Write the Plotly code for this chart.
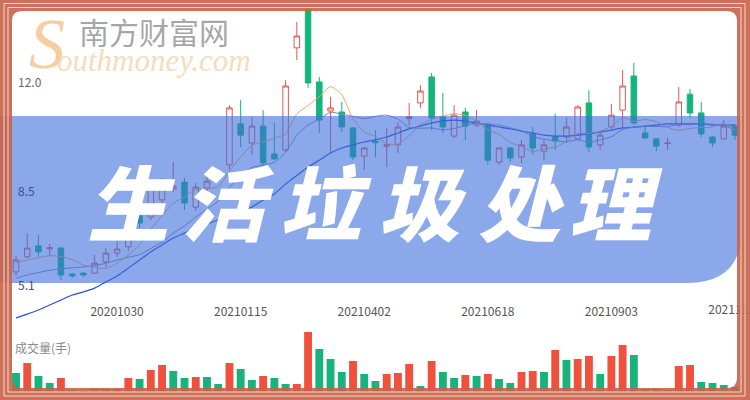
import plotly.graph_objects as go
import pandas as pd

# ---------------- data (weekly K-line) ----------------
dates = pd.date_range("2020-08-28", periods=65, freq="7D").strftime("%Y%m%d").tolist()

open_ = [5.90, 6.38, 6.73, 6.64, 6.66, 5.83, 5.86, 5.86, 6.22, 6.50,
         6.70, 7.69, 7.65, 8.20, 8.55, 8.77, 7.97, 8.58, 9.02, 9.32,
         10.63, 10.02, 10.56, 9.67, 9.80, 13.06, 14.27, 11.97, 11.04, 11.01,
         10.50, 9.60, 10.07, 9.92, 9.96, 10.80, 11.30, 12.13, 10.85, 10.24,
         11.01, 10.59, 10.63, 9.41, 9.86, 9.57, 10.31, 9.76, 10.21, 10.21,
         10.15, 11.30, 9.96, 10.53, 11.07, 12.16, 10.34, 10.15, 10.00, 10.59,
         11.58, 10.98, 10.21, 10.15, 10.56]
high = [6.41, 7.14, 7.08, 6.79, 6.70, 5.86, 5.90, 6.44, 6.66, 6.89,
        7.34, 7.80, 8.84, 8.90, 9.41, 8.90, 8.75, 9.00, 9.16, 11.23,
        11.39, 10.85, 11.07, 10.66, 12.03, 13.89, 14.40, 12.13, 11.49, 11.33,
        10.53, 9.89, 10.43, 10.50, 10.69, 11.30, 11.87, 12.26, 11.62, 11.23,
        11.14, 11.07, 10.65, 9.88, 9.89, 10.12, 10.53, 10.12, 10.95, 10.82,
        11.23, 11.71, 10.43, 11.27, 12.35, 12.58, 10.59, 10.18, 10.18, 11.81,
        11.75, 11.33, 10.23, 10.75, 10.63]
low = [5.77, 6.35, 6.38, 6.38, 5.64, 5.70, 5.74, 5.83, 6.06, 6.38,
       6.57, 7.30, 7.55, 8.00, 8.45, 7.88, 7.85, 8.40, 8.85, 9.16,
       9.89, 9.64, 9.25, 9.47, 9.73, 12.67, 11.78, 10.34, 9.70, 10.37,
       9.47, 9.16, 9.57, 9.25, 9.70, 10.59, 11.14, 10.43, 10.34, 10.18,
       10.12, 10.53, 9.32, 9.32, 9.41, 9.38, 9.64, 9.47, 9.80, 10.02,
       10.12, 9.73, 9.80, 10.43, 10.50, 10.59, 10.15, 9.76, 9.80, 10.53,
       10.82, 10.21, 9.89, 10.12, 10.12]
close = [6.28, 6.66, 6.54, 6.67, 5.80, 5.77, 5.80, 6.18, 6.50, 6.63,
         7.08, 7.46, 8.64, 8.64, 8.64, 8.10, 8.61, 8.80, 8.97, 11.14,
         10.27, 10.56, 9.38, 9.51, 11.84, 13.44, 11.94, 10.75, 11.14, 10.53,
         9.57, 9.86, 10.03, 9.96, 10.53, 10.86, 11.68, 10.82, 10.53, 10.91,
         10.56, 10.72, 9.47, 9.86, 9.54, 9.96, 9.86, 9.96, 10.08, 10.53,
         11.17, 9.89, 10.27, 10.91, 11.84, 10.66, 10.18, 9.92, 10.02, 11.33,
         10.98, 10.31, 10.02, 10.56, 10.27]

ma5 = [6.20, 6.28, 6.35, 6.42, 6.39, 6.29, 6.12, 6.04, 6.01, 6.18,
       6.44, 6.77, 7.26, 7.69, 8.09, 8.30, 8.53, 8.56, 8.62, 9.12,
       9.56, 9.95, 10.06, 10.17, 10.31, 10.95, 11.22, 11.50, 11.82, 11.56,
       10.79, 10.37, 10.23, 9.99, 9.99, 10.25, 10.61, 10.77, 10.88, 10.96,
       10.90, 10.71, 10.44, 10.30, 10.03, 9.91, 9.74, 9.84, 9.88, 10.08,
       10.32, 10.33, 10.39, 10.55, 10.82, 10.71, 10.77, 10.70, 10.52, 10.42,
       10.49, 10.51, 10.53, 10.64, 10.43]
ma10 = [5.70, 5.80, 5.88, 5.95, 6.00, 6.03, 6.06, 6.10, 6.18, 6.28,
        6.37, 6.45, 6.65, 6.85, 7.14, 7.37, 7.65, 7.91, 8.16, 8.61,
        8.93, 9.24, 9.31, 9.40, 9.72, 10.26, 10.59, 10.78, 11.00, 10.94,
        10.87, 10.80, 10.87, 10.91, 10.78, 10.52, 10.49, 10.50, 10.44, 10.48,
        10.58, 10.66, 10.61, 10.59, 10.50, 10.41, 10.23, 10.14, 10.09, 10.06,
        10.12, 10.04, 10.12, 10.22, 10.45, 10.52, 10.55, 10.55, 10.54, 10.62,
        10.60, 10.64, 10.62, 10.58, 10.43]
ma20 = [4.43, 4.55, 4.68, 4.84, 5.00, 5.16, 5.26, 5.38, 5.58, 5.77,
        6.02, 6.28, 6.54, 6.76, 6.98, 7.14, 7.30, 7.43, 7.56, 7.69,
        7.81, 7.97, 8.20, 8.39, 8.71, 8.98, 9.25, 9.47, 9.70, 9.86,
        9.96, 10.05, 10.12, 10.21, 10.34, 10.47, 10.56, 10.66, 10.72, 10.75,
        10.72, 10.66, 10.59, 10.53, 10.47, 10.40, 10.34, 10.27, 10.24, 10.24,
        10.27, 10.31, 10.37, 10.43, 10.50, 10.53, 10.56, 10.59, 10.63, 10.63,
        10.63, 10.63, 10.59, 10.59, 10.59]

# volume (万手) and its colour flag (1 = red, 0 = green)
volume = [1.9, 2.9, 1.6, 0.9, 1.4, 0.2, 0.1, 0.3, 0.3, 0.3,
          1.4, 1.3, 2.2, 2.7, 2.1, 1.4, 1.5, 1.5, 0.8, 2.9,
          2.3, 1.2, 1.6, 1.4, 0.8, 0.8, 6.0, 4.3, 3.3, 2.0,
          3.1, 1.8, 1.1, 1.8, 1.9, 2.8, 0.6, 3.1, 2.0, 1.4,
          1.7, 1.6, 1.8, 1.3, 0.9, 2.0, 2.1, 2.0, 4.2, 3.2,
          3.3, 3.6, 1.8, 3.6, 4.7, 3.7, 0.3, 0.3, 0.2, 2.6,
          2.7, 1.0, 0.9, 0.7, 0.5]
vol_up = [0, 1, 0, 0, 1, 0, 0, 1, 1, 1,
          1, 0, 1, 1, 0, 0, 1, 0, 0, 1,
          0, 0, 1, 0, 0, 1, 1, 0, 0, 0,
          1, 0, 0, 1, 1, 1, 0, 1, 0, 0,
          1, 0, 1, 0, 0, 1, 1, 0, 1, 0,
          1, 1, 0, 1, 1, 0, 0, 0, 1, 1,
          1, 0, 0, 0, 0]

tick_dates = dates[9::11]
title_chars = ["生", "活", "垃", "圾", "处", "理"]
y_labels = [(12.0, "12.0"), (8.5, "8.5"), (5.1, "5.1")]

# ---------------- helpers ----------------
W, H = 750, 400
def px(x):
    return x / W
def py(y):
    return 1 - y / H

RED = "#f0513c"
GREEN = "#17b37b"
FONT = "Noto Sans CJK SC"
Y_TOP, Y_BOT_PX, Y_PER_PX = 14.589, 321, 0.031959   # price-axis calibration

fig = go.Figure()

fig.add_trace(go.Candlestick(
    x=dates, open=open_, high=high, low=low, close=close,
    increasing=dict(line=dict(color="#e2584e", width=1), fillcolor="rgba(255,255,255,0)"),
    decreasing=dict(line=dict(color="#14b47b", width=1), fillcolor="#14b47b"),
    whiskerwidth=0, xaxis="x", yaxis="y", hoverinfo="skip"))

for vals, col, wd in [(ma20, "#2a4fcc", 1.2), (ma10, "#8d7fbb", 1.0), (ma5, "#f0a766", 1.0)]:
    fig.add_trace(go.Scatter(x=dates, y=vals, mode="lines",
                             line=dict(color=col, width=wd, shape="spline", smoothing=0.6),
                             xaxis="x", yaxis="y", hoverinfo="skip"))

# last date label, partly hidden under the frame (the axis would drop it)
fig.add_trace(go.Scatter(x=[tick_dates[-1]], y=[Y_TOP - 311 * Y_PER_PX], mode="text",
                         text=[tick_dates[-1]], textposition="middle center", cliponaxis=True,
                         textfont=dict(family=FONT, size=12, color="#555555"),
                         xaxis="x", yaxis="y", hoverinfo="skip"))

fig.add_trace(go.Bar(x=dates, y=volume,
                     marker=dict(color=[RED if u else GREEN for u in vol_up], line=dict(width=0)),
                     xaxis="x2", yaxis="y2", hoverinfo="skip"))

xr = [-1.424, 65.34]
fig.update_layout(
    width=W, height=H, margin=dict(l=0, r=0, t=0, b=0),
    paper_bgcolor="white", plot_bgcolor="white", showlegend=False,
    bargap=0.3,
    xaxis=dict(domain=[0, 1], type="category", range=xr, anchor="y",
               tickvals=tick_dates[:-1], ticktext=tick_dates[:-1], ticks="",
               ticklabelposition="inside", showgrid=False, zeroline=False, showline=False,
               tickfont=dict(family=FONT, size=12, color="#555555"),
               rangeslider=dict(visible=False)),
    yaxis=dict(domain=[py(Y_BOT_PX), 1], range=[Y_TOP - Y_BOT_PX * Y_PER_PX, Y_TOP],
               showticklabels=False, showgrid=False, zeroline=False, showline=False, ticks=""),
    xaxis2=dict(domain=[0, 1], type="category", range=xr, anchor="y2",
                showticklabels=False, showgrid=False, zeroline=False, ticks=""),
    yaxis2=dict(domain=[py(392), py(330)], range=[0, 6.2], showticklabels=False,
                showgrid=False, zeroline=False, ticks=""),
)

shapes = []
# blue banner
banner = (f"M 0,{py(116)} L {px(742)},{py(116)} L {px(742)},{py(228)} "
          f"Q {px(742)},{py(283)} {px(687)},{py(283)} L 0,{py(283)} Z")
shapes.append(dict(type="path", path=banner, xref="paper", yref="paper",
                   fillcolor="rgb(60,110,220)", opacity=0.6, line=dict(width=0), layer="above"))

# decorative frame: outer rectangle with a rounded inner hole
L_, T_, R_, B_, r = 12, 11, 737, 388, 10
frame = (f"M 0,{py(0)} L {px(W)},{py(0)} L {px(W)},{py(H)} L 0,{py(H)} Z "
         f"M {px(L_ + r)},{py(T_)} L {px(R_ - r)},{py(T_)} Q {px(R_)},{py(T_)} {px(R_)},{py(T_ + r)} "
         f"L {px(R_)},{py(B_ - r)} Q {px(R_)},{py(B_)} {px(R_ - r)},{py(B_)} "
         f"L {px(L_ + r)},{py(B_)} Q {px(L_)},{py(B_)} {px(L_)},{py(B_ - r)} "
         f"L {px(L_)},{py(T_ + r)} Q {px(L_)},{py(T_)} {px(L_ + r)},{py(T_)} Z")
shapes.append(dict(type="path", path=frame, xref="paper", yref="paper", fillrule="evenodd",
                   fillcolor="#c9604c", opacity=0.9, line=dict(width=0), layer="above"))
for (x0, y0, x1, y1) in [(4, 3.5, 745, 396), (8, 7.5, 741, 392)]:
    shapes.append(dict(type="rect", xref="paper", yref="paper",
                       x0=px(x0), x1=px(x1), y0=py(y1), y1=py(y0),
                       line=dict(color="#f6dcbf", width=1), fillcolor="rgba(0,0,0,0)", layer="above"))
fig.update_layout(shapes=shapes)

ann = []
# watermark
ann.append(dict(text="S", x=px(47), y=py(44), xref="paper", yref="paper", showarrow=False,
                xanchor="center", yanchor="middle",
                font=dict(family="Liberation Serif", size=72, color="rgba(242,190,130,0.75)", style="italic")))
ann.append(dict(text="南方财富网", x=px(154), y=py(31), xref="paper", yref="paper", showarrow=False,
                xanchor="center", yanchor="middle",
                font=dict(family=FONT, size=30, color="rgba(150,150,150,0.85)")))
ann.append(dict(text="outhmoney.com", x=px(55), y=py(60), xref="paper", yref="paper", showarrow=False,
                xanchor="left", yanchor="middle",
                font=dict(family="Liberation Serif", size=31, color="rgba(246,214,180,0.9)", style="italic")))
# price labels
for val, txt in y_labels:
    col = "#666666" if val > 11 else "#3e4f82"
    shift = 12 if val < 6 else 0
    ann.append(dict(text=txt, x=px(16), y=val, xref="paper", yref="y", yshift=shift,
                    xanchor="left", yanchor="middle", showarrow=False,
                    font=dict(family=FONT, size=12, color=col)))
# volume label
ann.append(dict(text="成交量(手)", x=px(13), y=py(347), xref="paper", yref="paper",
                xanchor="left", yanchor="middle",
                showarrow=False, font=dict(family=FONT, size=12, color="#8a8a8a")))
# banner title
centers = [131, 228, 325, 422, 521, 616]
for ch, cx in zip(title_chars, centers):
    ann.append(dict(text=ch, x=px(cx), y=py(199), xref="paper", yref="paper", showarrow=False,
                    xanchor="center", yanchor="middle",
                    font=dict(family=FONT, size=82, color="white", weight=900, style="italic")))
fig.update_layout(annotations=ann)

fig.write_html("out.html", config={"displayModeBar": False},
               post_script="document.body.style.margin='0';")
